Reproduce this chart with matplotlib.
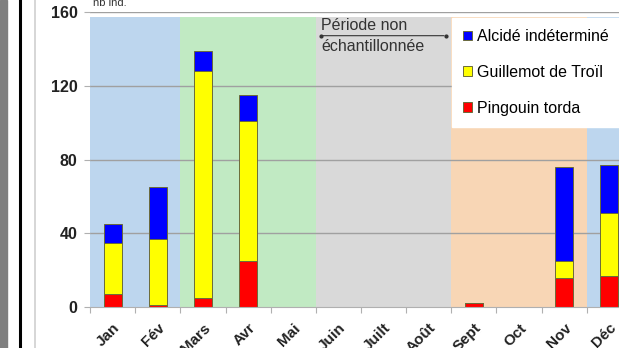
import matplotlib
matplotlib.use("Agg")
import matplotlib.pyplot as plt
from matplotlib.patches import Rectangle
from matplotlib.lines import Line2D

months = ["Jan", "Fév", "Mars", "Avr", "Mai", "Juin", "Juilt", "Août", "Sept", "Oct", "Nov", "Déc"]
pingouin = [7, 1, 5, 25, 0, 0, 0, 0, 2, 0, 16, 17]
guillemot = [28, 36, 123, 76, 0, 0, 0, 0, 0, 0, 9, 34]
alcide = [10, 28, 11, 14, 0, 0, 0, 0, 0, 0, 51, 26]
series_names = ["Alcidé indéterminé", "Guillemot de Troïl", "Pingouin torda"]
yticks = [0, 40, 80, 120, 160]

plt.rcParams['font.family'] = ['Liberation Sans', 'DejaVu Sans']

fig = plt.figure(figsize=(6.19, 3.48), dpi=100)
fig.patch.set_facecolor("white")

# left frame decorations
fig.patches.append(Rectangle((0, 0), 7/619, 1, transform=fig.transFigure, color="#7f7f7f", zorder=0))
fig.lines.append(Line2D([20/619, 20/619], [0, 1], transform=fig.transFigure, color="black", lw=2.2))
fig.lines.append(Line2D([34.5/619, 34.5/619], [0, 1], transform=fig.transFigure, color="#d0d0d0", lw=1.2))

ax = fig.add_axes([90/619, 41/348, 542/619, 294.7/348])
x = list(range(len(months)))
ax.set_xlim(-0.5, 11.5)
ax.set_ylim(0, 160)

# seasonal background bands
bands = [(-0.5, 1.5, "#bdd6ee"), (1.5, 4.5, "#c1eac3"), (4.5, 7.5, "#d9d9d9"),
         (7.5, 10.5, "#f8d6b5"), (10.5, 11.5, "#bdd6ee")]
for a, b, c in bands:
    ax.axvspan(a, b, ymin=0, ymax=157.5/160, color=c, lw=0, zorder=0)

for t in yticks[1:]:
    ax.axhline(t, color="#a0a0a0", lw=1.0, zorder=1)

w = 0.4
ec = "#6b6b3a"
bottom2 = pingouin
bottom3 = [p + g for p, g in zip(pingouin, guillemot)]
ax.bar(x, pingouin, w, color="#ff0000", edgecolor=ec, lw=0.7, zorder=3, label=series_names[2])
ax.bar(x, guillemot, w, bottom=bottom2, color="#ffff00", edgecolor=ec, lw=0.7, zorder=3, label=series_names[1])
ax.bar(x, alcide, w, bottom=bottom3, color="#0000ff", edgecolor=ec, lw=0.7, zorder=3, label=series_names[0])

for s in ["top", "right", "left"]:
    ax.spines[s].set_visible(False)
ax.spines["bottom"].set_color("#b0b0b0")
ax.spines["bottom"].set_zorder(4)

ax.set_yticks(yticks)
ax.set_yticklabels([str(v) for v in yticks], fontsize=11.5, fontweight="bold", color="#222222")
ax.tick_params(axis="y", length=4, color="#b0b0b0", pad=5)

ax.set_xticks([i - 0.5 for i in range(12)], minor=False)
ax.set_xticklabels([])
ax.tick_params(axis="x", which="major", length=4, color="#b0b0b0")
ax.set_xticks(x, minor=True)
ax.set_xticklabels(months, minor=True, rotation=45, ha="right", rotation_mode="anchor",
                   fontsize=11, fontweight="bold", color="#222222")
ax.tick_params(axis="x", which="minor", length=0, pad=10)

# annotation
ax.annotate("", xy=(4.6, 147.3), xytext=(7.4, 147.3),
            arrowprops=dict(arrowstyle="-", color="#333333", lw=0.8), zorder=5)
ax.plot([4.62, 7.38], [147.3, 147.3], ls="none", marker="o", ms=2, color="#333333", zorder=5)
ax.text(4.62, 149, "Période non", fontsize=11.5, color="#333333", va="bottom", ha="left", zorder=5)
ax.text(4.62, 145.5, "échantillonnée", fontsize=11.5, color="#333333", va="top", ha="left", zorder=5)

ax.text(-0.43, 162.5, "nb ind.", fontsize=8, color="#333333", va="bottom", ha="left", clip_on=False)

# legend
h, l = ax.get_legend_handles_labels()
order = [2, 1, 0]
leg = ax.legend([h[i] for i in order], [l[i] for i in order], loc="upper left",
                bbox_to_anchor=(452/619, 1 - 18/348), bbox_transform=fig.transFigure,
                fontsize=11.5, frameon=True, fancybox=False, edgecolor="white", framealpha=1,
                handlelength=0.55, handleheight=0.55, handletextpad=0.3, labelspacing=1.3,
                borderpad=0.7, borderaxespad=0)
leg.set_zorder(10)

fig.savefig("out.png", dpi=100)
